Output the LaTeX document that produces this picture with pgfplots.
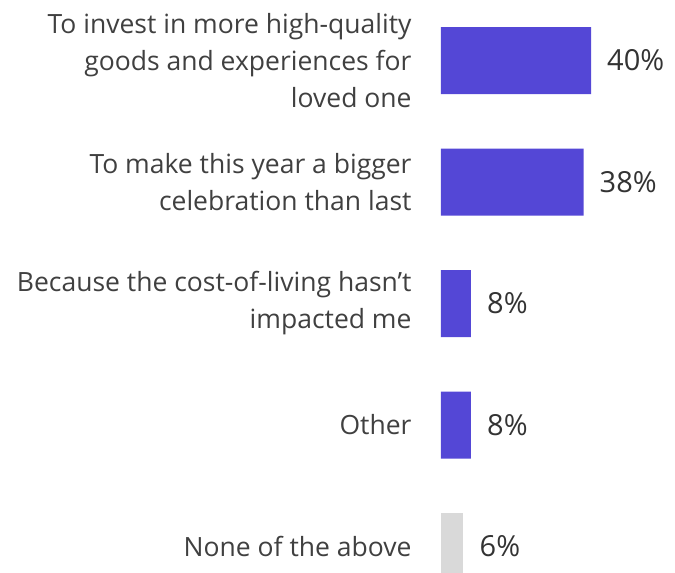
\documentclass[border=0pt]{standalone}
\usepackage{pgfplots}
\pgfplotsset{compat=1.18}
\usepackage{fontspec}
\setmainfont{Open Sans}
\definecolor{barblue}{HTML}{5447D6}
\definecolor{bargray}{HTML}{D9D9D9}
\definecolor{txt}{HTML}{404040}
\definecolor{valtxt}{HTML}{333333}
\begin{document}
\begin{tikzpicture}
\useasboundingbox (0,0) rectangle (675pt,-573pt);
\begin{axis}[
  at={(441pt,-60.5pt)}, anchor=origin,
  x=3.75pt, y=121.5pt, y dir=reverse,
  xmin=0, xmax=48, ymin=-0.5, ymax=4.5,
  xbar, bar width=67pt, bar shift=0pt,
  clip=false,
  /pgf/number format/assume math mode=true,
  axis line style={draw=none}, tick style={draw=none},
  xtick=\empty, ytick={0,1,2,3,4},
  yticklabels={{To invest in more high-quality\\goods and experiences for\\loved one},
               {To make this year a bigger\\celebration than last},
               {Because the cost-of-living hasn’t\\impacted me},
               {Other},
               {None of the above}},
  yticklabel style={align=right, font=\fontsize{26.5}{37}\selectfont, text=txt, inner sep=0pt, xshift=-25pt},
  nodes near coords={\pgfmathprintnumber{\pgfplotspointmeta}\%},
  nodes near coords align=horizontal,
  every node near coord/.append style={font=\fontsize{29}{34}\selectfont, text=valtxt, inner sep=0pt, anchor=west, xshift=16pt},
]
\addplot[fill=barblue, draw=none] coordinates {(40,0) (38,1) (8,2) (8,3)};
\addplot[fill=bargray, draw=none] coordinates {(6,4)};
\end{axis}
\end{tikzpicture}
\end{document}
